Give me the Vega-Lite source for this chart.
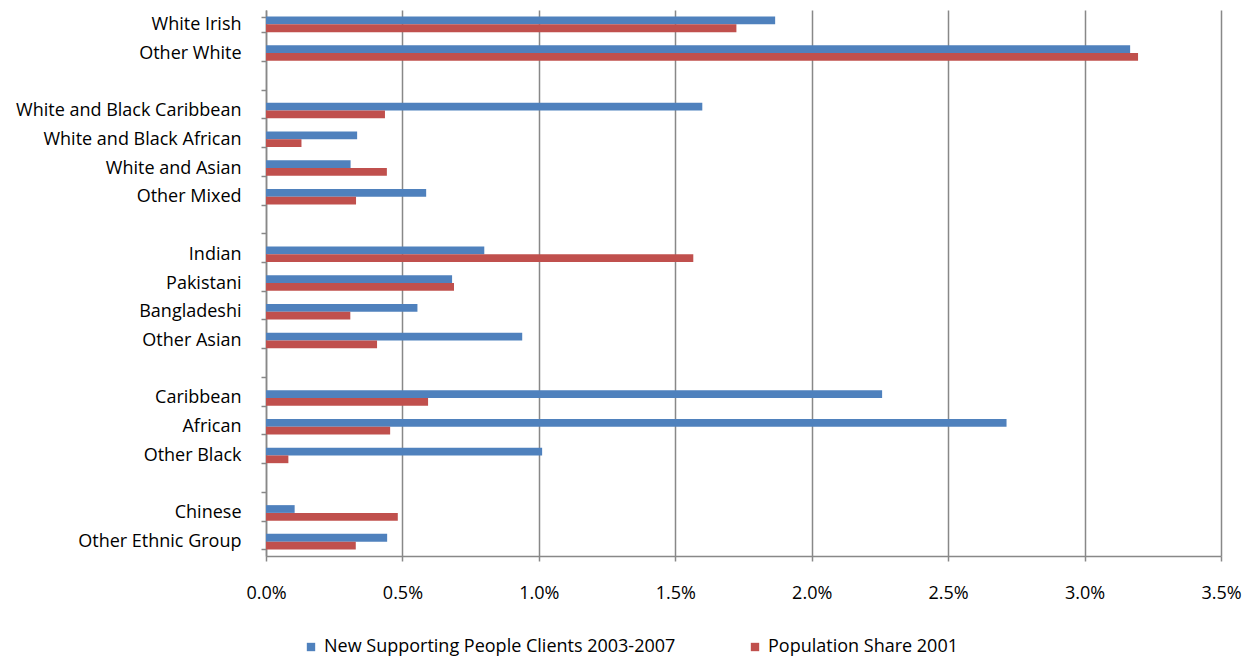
{
  "$schema": "https://vega.github.io/schema/vega-lite/v6.json",
  "autosize": "none",
  "width": 955,
  "height": 546,
  "padding": {"left": 266, "top": 10, "right": 29, "bottom": 104},
  "background": "white",
  "config": {"view": {"stroke": null}, "font": "Open Sans"},
  "data": {"values": [
    {"group": "White Irish", "series": "New Supporting People Clients 2003-2007", "value": 0.01866},
    {"group": "White Irish", "series": "Population Share 2001", "value": 0.01724},
    {"group": "Other White", "series": "New Supporting People Clients 2003-2007", "value": 0.03167},
    {"group": "Other White", "series": "Population Share 2001", "value": 0.03196},
    {"group": "White and Black Caribbean", "series": "New Supporting People Clients 2003-2007", "value": 0.01599},
    {"group": "White and Black Caribbean", "series": "Population Share 2001", "value": 0.00436},
    {"group": "White and Black African", "series": "New Supporting People Clients 2003-2007", "value": 0.00334},
    {"group": "White and Black African", "series": "Population Share 2001", "value": 0.0013},
    {"group": "White and Asian", "series": "New Supporting People Clients 2003-2007", "value": 0.0031},
    {"group": "White and Asian", "series": "Population Share 2001", "value": 0.00443},
    {"group": "Other Mixed", "series": "New Supporting People Clients 2003-2007", "value": 0.00587},
    {"group": "Other Mixed", "series": "Population Share 2001", "value": 0.0033},
    {"group": "Indian", "series": "New Supporting People Clients 2003-2007", "value": 0.008},
    {"group": "Indian", "series": "Population Share 2001", "value": 0.01566},
    {"group": "Pakistani", "series": "New Supporting People Clients 2003-2007", "value": 0.00682},
    {"group": "Pakistani", "series": "Population Share 2001", "value": 0.00689},
    {"group": "Bangladeshi", "series": "New Supporting People Clients 2003-2007", "value": 0.00555},
    {"group": "Bangladeshi", "series": "Population Share 2001", "value": 0.00309},
    {"group": "Other Asian", "series": "New Supporting People Clients 2003-2007", "value": 0.00939},
    {"group": "Other Asian", "series": "Population Share 2001", "value": 0.00407},
    {"group": "Caribbean", "series": "New Supporting People Clients 2003-2007", "value": 0.02258},
    {"group": "Caribbean", "series": "Population Share 2001", "value": 0.00594},
    {"group": "African", "series": "New Supporting People Clients 2003-2007", "value": 0.02714},
    {"group": "African", "series": "Population Share 2001", "value": 0.00455},
    {"group": "Other Black", "series": "New Supporting People Clients 2003-2007", "value": 0.01012},
    {"group": "Other Black", "series": "Population Share 2001", "value": 0.00082},
    {"group": "Chinese", "series": "New Supporting People Clients 2003-2007", "value": 0.00105},
    {"group": "Chinese", "series": "Population Share 2001", "value": 0.00483},
    {"group": "Other Ethnic Group", "series": "New Supporting People Clients 2003-2007", "value": 0.00444},
    {"group": "Other Ethnic Group", "series": "Population Share 2001", "value": 0.00329}
  ]},
  "mark": {"type": "bar"},
  "encoding": {
    "y": {
      "field": "group",
      "type": "nominal",
      "scale": {
        "domain": ["White Irish", "Other White", " ", "White and Black Caribbean", "White and Black African", "White and Asian", "Other Mixed", "  ", "Indian", "Pakistani", "Bangladeshi", "Other Asian", "   ", "Caribbean", "African", "Other Black", "    ", "Chinese", "Other Ethnic Group"],
        "paddingInner": 0.46,
        "paddingOuter": 0.23
      },
      "axis": {
        "title": null,
        "tickBand": "extent",
        "domainColor": "#888888",
        "domainWidth": 1.5,
        "tickColor": "#888888",
        "tickWidth": 1.5,
        "tickSize": 5,
        "labelFontSize": 18,
        "labelColor": "#000000",
        "labelPadding": 20,
        "labelLimit": 400,
        "grid": false
      }
    },
    "yOffset": {
      "field": "series",
      "type": "nominal",
      "sort": ["New Supporting People Clients 2003-2007", "Population Share 2001"]
    },
    "x": {
      "field": "value",
      "type": "quantitative",
      "scale": {"domain": [0, 0.035], "nice": false},
      "axis": {
        "title": null,
        "format": ".1%",
        "values": [0, 0.005, 0.01, 0.015, 0.02, 0.025, 0.03, 0.035],
        "grid": true,
        "gridColor": "#888888",
        "gridWidth": 1.5,
        "domainColor": "#888888",
        "domainWidth": 1.5,
        "tickColor": "#888888",
        "tickWidth": 1.5,
        "tickSize": 5,
        "labelFlush": false,
        "labelFontSize": 18,
        "labelColor": "#000000",
        "labelPadding": 23
      }
    },
    "color": {
      "field": "series",
      "type": "nominal",
      "scale": {
        "domain": ["New Supporting People Clients 2003-2007", "Population Share 2001"],
        "range": ["#4F81BD", "#C0504D"]
      },
      "legend": {
        "title": null,
        "orient": "none",
        "legendX": 36,
        "legendY": 628,
        "direction": "horizontal",
        "symbolType": "square",
        "symbolSize": 70,
        "symbolStrokeWidth": 0,
        "labelFontSize": 18,
        "labelColor": "#000000",
        "labelLimit": 500,
        "columnPadding": 70,
        "labelOffset": 4
      }
    }
  }
}
